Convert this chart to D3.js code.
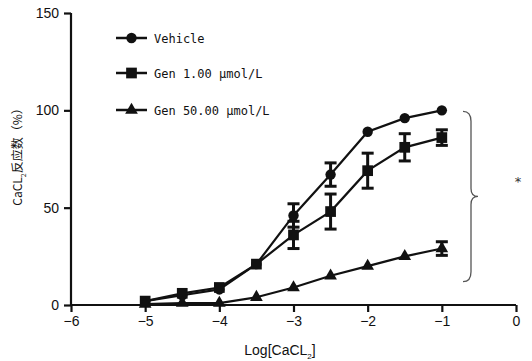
<!DOCTYPE html>
<html>
<head>
<meta charset="utf-8">
<script src="https://cdn.jsdelivr.net/npm/d3@7"></script>
<style>
  body { margin: 0; background: #fff; }
  svg { display: block; }
  .tick text { font-family: "Liberation Sans Narrow", "Liberation Sans", Arial, sans-serif; font-size: 14px; fill: #111; }
  .legend text { font-family: "DejaVu Sans Mono", "Liberation Mono", monospace; font-size: 12px; fill: #111; }
</style>
</head>
<body>
<div id="chart"></div>
<script>
// Log[CaCl2] doses
const doses = [-5, -4.5, -4, -3.5, -3, -2.5, -2, -1.5, -1];

// series means and error (SEM)
const vehicle = [2, 5, 8, 21, 46, 67, 89, 96, 100];
const vehicleErr = [0, 0, 0, 0, 6, 6, 0, 0, 0];
const gen1 = [2, 6, 9, 21, 36, 48, 69, 81, 86];
const gen1Err = [0, 0, 0, 0, 7, 9, 9, 7, 4];
const gen50 = [0.5, 1, 1, 4, 9, 15, 20, 25, 29];
const gen50Err = [0, 0, 0, 0, 0, 0, 0, 0, 3.5];

const seriesNames = ["Vehicle", "Gen 1.00 \u03bcmol/L", "Gen 50.00 \u03bcmol/L"];
const xTicks = [-6, -5, -4, -3, -2, -1, 0];
const yTicks = [0, 50, 100, 150];

const width = 532, height = 361;
const margin = { top: 13, right: 16, bottom: 56, left: 71 };

const svg = d3.select("#chart").append("svg")
  .attr("width", width)
  .attr("height", height);

const x = d3.scaleLinear().domain([-6, 0]).range([margin.left, width - margin.right]);
const y = d3.scaleLinear().domain([0, 150]).range([height - margin.bottom, margin.top]);

// axes
const xAxis = svg.append("g")
  .attr("transform", `translate(0,${y(0)})`)
  .call(d3.axisBottom(x).tickValues(xTicks).tickSize(7).tickPadding(4)
    .tickFormat(d => d === 0 ? "0" : "\u2212" + Math.abs(d)));
xAxis.selectAll("line, path").attr("stroke", "#111").attr("stroke-width", 2.2);
xAxis.select(".domain").attr("d", `M${x(-6)},0H${x(0)}`);

const yAxis = svg.append("g")
  .attr("transform", `translate(${x(-6)},0)`)
  .call(d3.axisLeft(y).tickValues(yTicks).tickSize(7).tickPadding(5));
yAxis.selectAll("line, path").attr("stroke", "#111").attr("stroke-width", 2.2);
yAxis.select(".domain").attr("d", `M0,${y(150)}V${y(0)}`);

// axis titles
const xTitle = svg.append("text")
  .attr("x", 280).attr("y", 355)
  .attr("text-anchor", "middle")
  .attr("font-family", "'Liberation Sans Narrow', 'Liberation Sans', Arial, sans-serif")
  .attr("font-size", 14).attr("fill", "#111");
xTitle.append("tspan").text("Log[CaCL");
xTitle.append("tspan").attr("font-size", 8).attr("dy", 4).text("2");
xTitle.append("tspan").attr("dy", -4).text("]");

const yTitle = svg.append("text")
  .attr("transform", "translate(22,154) rotate(-90)")
  .attr("text-anchor", "middle")
  .attr("font-family", "'Noto Sans CJK SC', 'Liberation Sans', sans-serif")
  .attr("font-size", 12).attr("fill", "#111");
yTitle.append("tspan").text("CaCL");
yTitle.append("tspan").attr("font-size", 7).attr("dy", 4).text("2");
yTitle.append("tspan").attr("dy", -4).text("反应数（%）");

// series
const series = [
  { name: seriesNames[0], vals: vehicle, err: vehicleErr, sym: d3.symbolCircle, size: 85 },
  { name: seriesNames[1], vals: gen1, err: gen1Err, sym: d3.symbolSquare, size: 115 },
  { name: seriesNames[2], vals: gen50, err: gen50Err, sym: d3.symbolTriangle, size: 70 }
];

const line = d3.line().x(d => x(d.dose)).y(d => y(d.v));

series.forEach(s => {
  const pts = doses.map((dose, i) => ({ dose, v: s.vals[i], e: s.err[i] }));
  const g = svg.append("g");

  g.append("path")
    .datum(pts)
    .attr("d", line)
    .attr("fill", "none")
    .attr("stroke", "#111")
    .attr("stroke-width", 2.2);

  const eb = g.selectAll(".err").data(pts.filter(p => p.e > 0)).enter().append("g");
  eb.append("line")
    .attr("x1", p => x(p.dose)).attr("x2", p => x(p.dose))
    .attr("y1", p => y(p.v - p.e)).attr("y2", p => y(p.v + p.e))
    .attr("stroke", "#111").attr("stroke-width", 3);
  [-1, 1].forEach(k => {
    eb.append("line")
      .attr("x1", p => x(p.dose) - 6).attr("x2", p => x(p.dose) + 6)
      .attr("y1", p => y(p.v + k * p.e)).attr("y2", p => y(p.v + k * p.e))
      .attr("stroke", "#111").attr("stroke-width", 3);
  });

  g.selectAll(".pt").data(pts).enter().append("path")
    .attr("transform", p => `translate(${x(p.dose)},${y(p.v)})`)
    .attr("d", d3.symbol().type(s.sym).size(s.size))
    .attr("fill", "#111");
});

// legend
const legendY = [38, 73, 110];
const legend = svg.append("g").attr("class", "legend");
series.forEach((s, i) => {
  const lg = legend.append("g").attr("transform", `translate(116,${legendY[i]})`);
  lg.append("line").attr("x1", 0).attr("x2", 31).attr("stroke", "#111").attr("stroke-width", 2.5);
  lg.append("path").attr("transform", "translate(15.5,0)")
    .attr("d", d3.symbol().type(s.sym).size(s.size)).attr("fill", "#111");
  lg.append("text").attr("x", 38).attr("y", 5).text(s.name);
});

// bracket and significance mark
const bx = 463, bTop = y(99.5), bBot = y(12), bMid = (bTop + bBot) / 2;
svg.append("path")
  .attr("d", `M${bx},${bTop} Q${bx + 8},${bTop} ${bx + 8},${bTop + 10} L${bx + 8},${bMid - 8} Q${bx + 8},${bMid} ${bx + 15},${bMid} Q${bx + 8},${bMid} ${bx + 8},${bMid + 8} L${bx + 8},${bBot - 10} Q${bx + 8},${bBot} ${bx},${bBot}`)
  .attr("fill", "none").attr("stroke", "#555").attr("stroke-width", 1.3);
svg.append("text")
  .attr("x", 518).attr("y", 186)
  .attr("text-anchor", "middle")
  .attr("font-family", "DejaVu Sans, sans-serif")
  .attr("font-size", 13).attr("fill", "#333")
  .text("*");
</script>
</body>
</html>
